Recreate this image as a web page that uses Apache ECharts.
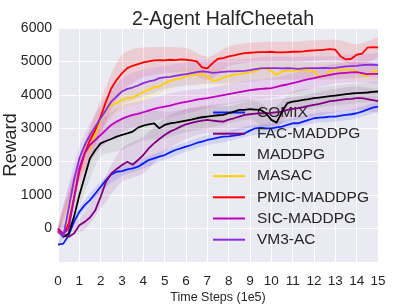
<!DOCTYPE html>
<html><head><meta charset="utf-8">
<script src="https://cdn.jsdelivr.net/npm/echarts@6/dist/echarts.min.js"></script>
<style>html,body{margin:0;padding:0;background:#fff}#c{width:407px;height:305px}</style>
</head><body><div id="c"></div>
<script>
// time steps (1e5), every 0.25
const tSteps = [0,0.25,0.5,0.75,1,1.25,1.5,1.75,2,2.25,2.5,2.75,3,3.25,3.5,3.75,4,4.25,4.5,4.75,5,5.25,5.5,5.75,6,6.25,6.5,6.75,7,7.25,7.5,7.75,8,8.25,8.5,8.75,9,9.25,9.5,9.75,10,10.25,10.5,10.75,11,11.25,11.5,11.75,12,12.25,12.5,12.75,13,13.25,13.5,13.75,14,14.25,14.5,14.75,15];
const bandSteps = [0,1,2,3,4,5,6,7,8,9,10,11,12,13,14,15];
const yTicks = [0,1000,2000,3000,4000,5000,6000];
const seriesNames = ['COMIX','FAC-MADDPG','MADDPG','MASAC','PMIC-MADDPG','SIC-MADDPG','VM3-AC'];

const comix = [-480,-450,-200,200, 500,700,850,1050, 1250,1450,1620,1700, 1720,1770,1800,1850, 1950,2050,2100,2150, 2200,2280,2350,2400, 2450,2500,2560,2600, 2650,2680,2720,2750, 2760,2780,2800,2850, 2930,3000,3020,3000, 3000,3030,3050,3100, 3150,3150,3200,3250, 3300,3320,3330,3350, 3350,3380,3400,3420, 3450,3500,3560,3620, 3650];
const facMaddpg = [0,-200,-250,-150, 100,200,330,550, 950,1400,1650,1780, 1900,2000,1910,2050, 2200,2400,2550,2680, 2800,2900,2970,3050, 3120,3160,3200,3230, 3250,3230,3210,3200, 3260,3300,3350,3400, 3420,3440,3450,3450, 3460,3480,3500,3550, 3580,3600,3630,3670, 3700,3730,3770,3810, 3830,3850,3870,3880, 3900,3900,3870,3840, 3810];
const maddpg = [-80,-250,-150,350, 1000,1550,2100,2350, 2550,2620,2680,2750, 2800,2850,2900,3020, 3080,3120,3150,3000, 3100,3150,3170,3200, 3230,3260,3300,3330, 3350,3370,3390,3400, 3450,3500,3550,3550, 3570,3560,3550,3450, 3250,3170,3500,3750, 3800,3820,3850,3870, 3900,3920,3940,3960, 3980,4000,4020,4040, 4050,4060,4070,4090, 4100];
const masac = [-50,-150,200,1000, 1750,2250,2400,2800, 3300,3550,3700,3750, 3850,3900,3920,4000, 4080,4150,4230,4250, 4350,4420,4460,4500, 4550,4580,4600,4630, 4550,4420,4450,4520, 4560,4600,4620,4650, 4680,4700,4800,4780, 4720,4600,4700,4730, 4720,4740,4750,4730, 4700,4530,4550,4700, 4750,4740,4760,4750, 4700,4600,4560,4700, 4700];
const pmicMaddpg = [-50,-200,150,900, 1700,2250,2650,2950, 3350,3800,4200,4450, 4650,4800,4870,4920, 4970,5000,5030,5040, 5030,5050,5040,5060, 5050,5030,5000,4820, 4790,4950,5080,5100, 5150,5180,5220,5250, 5260,5270,5280,5280, 5290,5270,5270,5280, 5290,5290,5300,5320, 5330,5340,5350,5370, 5350,5150,5060,5080, 5200,5230,5410,5430, 5420];
const sicMaddpg = [0,-150,0,900, 1800,2250,2500,2650, 2800,2950,3100,3200, 3280,3350,3400,3430, 3480,3530,3580,3620, 3650,3680,3720,3760, 3790,3820,3860,3880, 3900,3930,3960,3990, 4020,4050,4080,4110, 4140,4160,4180,4190, 4200,4240,4280,4310, 4350,4390,4430,4470, 4500,4540,4570,4600, 4630,4650,4660,4670, 4680,4650,4620,4630, 4630];
const vm3ac = [-100,-230,600,1450, 2100,2500,2800,3050, 3300,3550,3800,3950, 4100,4180,4220,4280, 4350,4400,4430,4500, 4520,4540,4570,4600, 4620,4650,4680,4700, 4690,4660,4670,4690, 4700,4700,4710,4720, 4740,4770,4790,4800, 4800,4800,4790,4800, 4790,4780,4790,4800, 4800,4800,4810,4800, 4810,4830,4850,4860, 4870,4890,4900,4900, 4890];

// half-width of shaded band at each integer step
const comixSpread = [80,150,150,150,150,150,150,150,150,150,150,150,150,150,150,150];
const facSpread = [100,200,350,500,550,500,450,400,400,400,400,350,350,350,350,350];
const maddpgSpread = [100,300,400,450,450,400,350,350,300,300,350,300,300,300,300,300];
const masacSpread = [100,300,350,300,300,250,250,250,250,250,250,250,250,250,250,250];
const pmicSpread = [100,400,500,550,450,400,350,350,300,300,300,300,300,300,320,300];
const sicSpread = [100,350,400,400,350,350,350,300,300,300,300,300,300,300,300,300];
const vm3Spread = [100,350,400,400,400,350,350,350,350,350,350,350,350,350,350,350];

const allData = [comix, facMaddpg, maddpg, masac, pmicMaddpg, sicMaddpg, vm3ac];
const allSpread = [comixSpread, facSpread, maddpgSpread, masacSpread, pmicSpread, sicSpread, vm3Spread];
const colors = ['#0a1eff','#800080','#000000','#ffd000','#ff0000','#c000c0','#8a2be2'];
const bandColors = ['rgba(10,30,255,0.11)','rgba(128,0,128,0.11)','rgba(80,80,80,0.11)','rgba(255,208,0,0.13)','rgba(255,0,0,0.12)','rgba(192,0,192,0.11)','rgba(138,43,226,0.11)'];
const FONT = 'Liberation Sans, Arial, sans-serif';

const series = [];
allData.forEach((d, i) => {
  const mean = bandSteps.map(s => d[tSteps.indexOf(s)]);
  const lower = mean.map((m, k) => m - allSpread[i][k]);
  const width = allSpread[i].map(s => 2 * s);
  series.push({type:'line', name:'_lo'+i, xAxisIndex:1, data:lower, stack:'band'+i, stackStrategy:'all',
    symbol:'none', lineStyle:{opacity:0}, silent:true, z:1, smooth:0.3});
  series.push({type:'line', name:'_hi'+i, xAxisIndex:1, data:width, stack:'band'+i, stackStrategy:'all',
    symbol:'none', lineStyle:{opacity:0}, areaStyle:{color:bandColors[i], opacity:1}, silent:true, z:1, smooth:0.3});
});
allData.forEach((d, i) => {
  series.push({type:'line', name:seriesNames[i], data:d, symbol:'none', showSymbol:false,
    lineStyle:{color:colors[i], width:1.8}, itemStyle:{color:colors[i]}, z:3+i});
});

const chart = echarts.init(document.getElementById('c'), null, {renderer:'canvas'});
chart.setOption({
  animation:false,
  backgroundColor:'#ffffff',
  title:{text:'2-Agent HalfCheetah', left:218, top:5, textAlign:'center',
    textStyle:{fontFamily:FONT, fontSize:19.5, fontWeight:'normal', color:'#262626'}},
  grid:{left:58, right:29, top:28, bottom:43, show:true, backgroundColor:'#eaeaf2', borderWidth:0,
    containLabel:false, outerBoundsMode:'none'},
  legend:{data:seriesNames, orient:'vertical', left:213, top:104, icon:'rect', itemWidth:32, itemHeight:2,
    itemGap:4.2, padding:0,
    textStyle:{fontFamily:FONT, fontSize:15.5, color:'#262626', lineHeight:17, padding:[0,0,0,7]}},
  xAxis:[{type:'category', data:tSteps.map(String), boundaryGap:false,
    axisLine:{show:false}, axisTick:{show:false},
    axisLabel:{interval:3, margin:12, fontSize:13.5, color:'#262626', fontFamily:FONT},
    splitLine:{show:true, interval:3, lineStyle:{color:'#ffffff', width:1}},
    name:'Time Steps (1e5)', nameLocation:'middle', nameGap:29, nameMoveOverlap:false,
    nameTextStyle:{fontSize:12.5, color:'#262626', fontFamily:FONT}},
   {type:'category', data:bandSteps.map(String), boundaryGap:false, show:false}],
  yAxis:{type:'value', min:-1000, max:6000, interval:1000,
    axisLine:{show:false}, axisTick:{show:false},
    axisLabel:{formatter:v => (yTicks.indexOf(v) >= 0 ? String(v) : ''), margin:6, fontSize:14, color:'#262626',
      fontFamily:FONT},
    splitLine:{show:true, lineStyle:{color:'#ffffff', width:1}},
    name:'Reward', nameLocation:'middle', nameGap:38, nameRotate:90, nameMoveOverlap:false,
    nameTextStyle:{fontSize:18.5, color:'#262626', fontFamily:FONT}},
  series:series
});
</script></body></html>
